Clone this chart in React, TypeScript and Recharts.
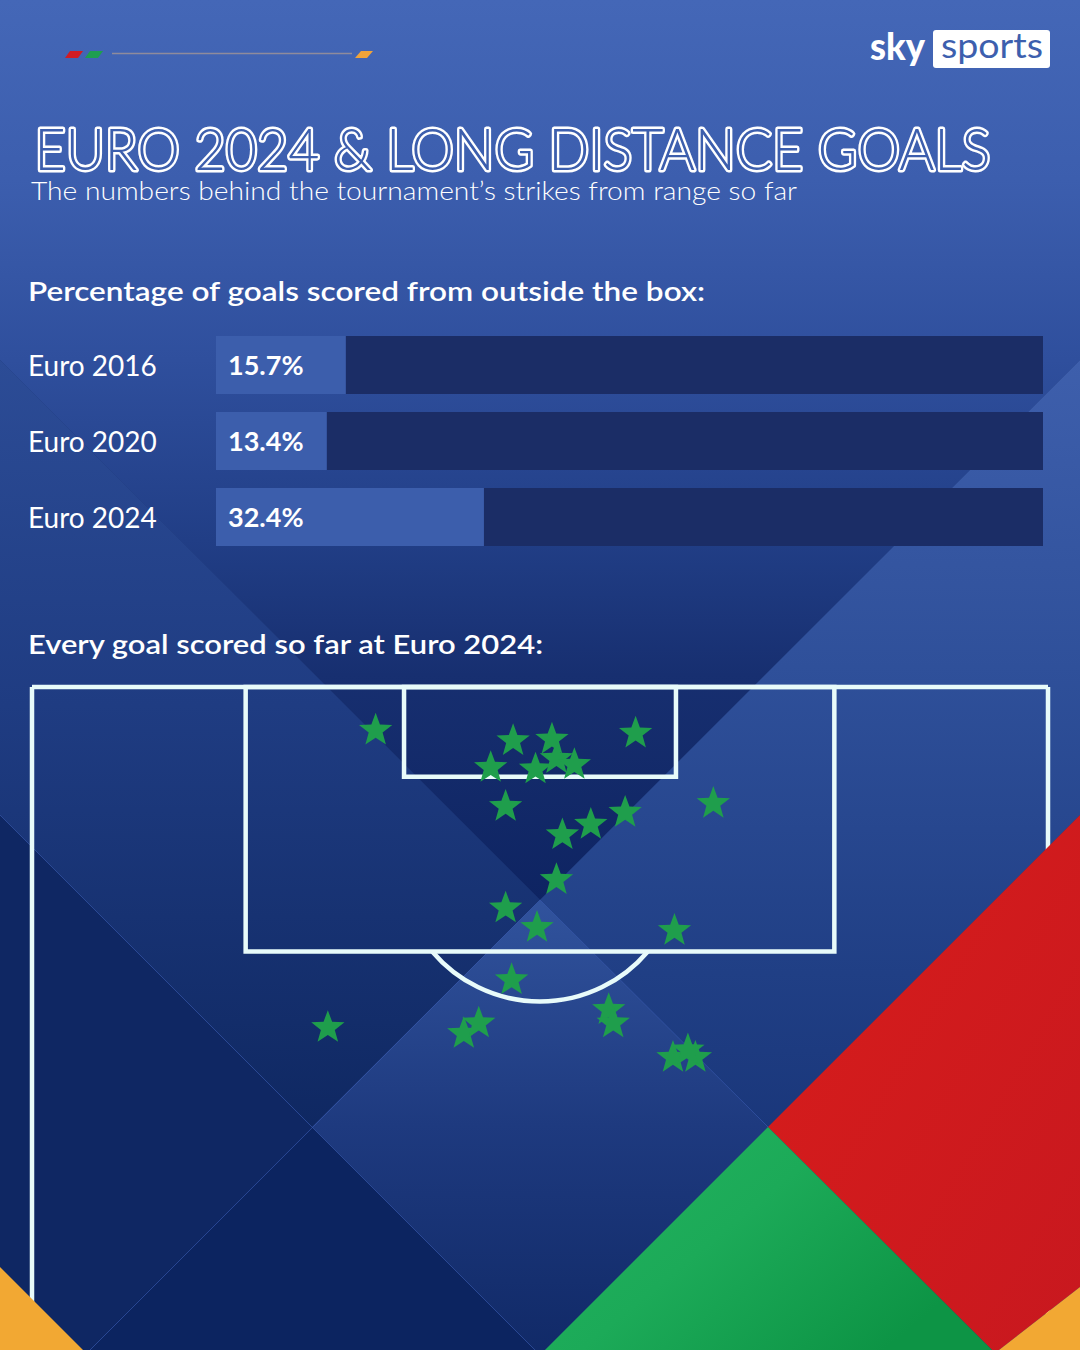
// Euro 2024 & long distance goals: barres horizontales + carte des buts sur un terrain.
import { BarChart, Bar, XAxis, YAxis, LabelList, ScatterChart, Scatter, ReferenceLine, ReferenceArea } from 'recharts';

const tournaments = ['Euro 2016', 'Euro 2020', 'Euro 2024'];
const outsideBoxPct = [15.7, 13.4, 32.4];

// goals, in metres: x across the pitch, y out from the goal line
const goalX = [23.0, 32.2, 34.8, 40.4, 30.7, 33.7, 35.1, 36.3, 31.7, 45.6, 39.7, 37.4, 35.5, 35.1, 31.7, 33.8, 43.0, 32.1, 19.8, 28.9, 29.9, 38.6, 38.9, 42.9, 44.4, 43.9];
const goalY = [2.9, 3.6, 3.5, 3.1, 5.4, 5.5, 4.8, 5.2, 8.0, 7.8, 8.4, 9.2, 9.9, 12.9, 14.8, 16.1, 16.3, 19.6, 22.8, 23.2, 22.5, 21.6, 22.5, 24.8, 24.8, 24.3];

// pitch markings, metres
const pitchWidth = 68;
const pitchDepth = 44.37;
const boxLeft = 14.3, boxRight = 53.7, boxDepth = 17.7;
const sixLeft = 24.9, sixRight = 43.1, sixDepth = 6.0;
const spotX = 34, spotY = 11.6, arcRadius = 9.45;

const barData = tournaments.map((name, i) => ({ name, pct: outsideBoxPct[i] }));
const goals = goalX.map((x, i) => ({ x, y: goalY[i] }));

const LINE = '#e8fbfa';
const FONT = 'Lato, "Open Sans", sans-serif';

const CatTick = ({ y, payload }: any) => (
  <text x={8} y={y} dy={11} fill="#fff" fontSize={28} fontFamily={FONT}>{payload.value}</text>
);

const Star = ({ cx, cy }: any) => {
  const R = 17.5, r = 7.3;
  const pts: string[] = [];
  for (let i = 0; i < 10; i++) {
    const a = -Math.PI / 2 + (i * Math.PI) / 5;
    const rad = i % 2 === 0 ? R : r;
    pts.push(`${cx + rad * Math.cos(a)},${cy + rad * Math.sin(a)}`);
  }
  return <polygon points={pts.join(' ')} fill="#1f9e4c" />;
};

// arc de la surface (the "D"), drawn in the circle's bounding box
const arcShape = (p: any) => {
  const r = Math.abs(p.width) / 2;
  const cx = p.x + p.width / 2;
  const cy = p.y + p.height / 2;
  const k = r / arcRadius;
  const dy = (boxDepth - spotY) * k;
  const dx = Math.sqrt(r * r - dy * dy);
  return <path d={`M ${cx - dx} ${cy + dy} A ${r} ${r} 0 0 0 ${cx + dx} ${cy + dy}`} fill="none" stroke={LINE} strokeWidth={4.5} />;
};

const Background = () => (
  <svg width={1080} height={1350} style={{ position: 'absolute', left: 0, top: 0 }}>
    <defs>
      <linearGradient id="gV" gradientUnits="userSpaceOnUse" x1="0" y1="0" x2="0" y2="900">
        <stop offset="0" stopColor="#4467b7" />
        <stop offset="0.2" stopColor="#3c5eae" />
        <stop offset="0.4" stopColor="#2f4f9d" />
        <stop offset="0.6" stopColor="#213e86" />
        <stop offset="0.75" stopColor="#172f70" />
        <stop offset="1" stopColor="#0e2462" />
      </linearGradient>
      <linearGradient id="gL" gradientUnits="userSpaceOnUse" x1="0" y1="360" x2="0" y2="1127">
        <stop offset="0" stopColor="#2c4c96" />
        <stop offset="0.45" stopColor="#1f3c82" />
        <stop offset="1" stopColor="#0f2862" />
      </linearGradient>
      <linearGradient id="gR" gradientUnits="userSpaceOnUse" x1="0" y1="360" x2="0" y2="1127">
        <stop offset="0" stopColor="#3e5fac" />
        <stop offset="0.4" stopColor="#2f509a" />
        <stop offset="0.8" stopColor="#203f85" />
        <stop offset="1" stopColor="#1a377b" />
      </linearGradient>
      <linearGradient id="gD" gradientUnits="userSpaceOnUse" x1="0" y1="900" x2="0" y2="1350">
        <stop offset="0" stopColor="#31539d" />
        <stop offset="0.5" stopColor="#1e3a7f" />
        <stop offset="1" stopColor="#112a68" />
      </linearGradient>
    </defs>
    <rect width={1080} height={1350} fill="#1a3578" />
    <polygon points="0,0 1080,0 1080,360 540,900 0,360" fill="url(#gV)" />
    <polygon points="0,360 540,900 312,1127 0,815" fill="url(#gL)" />
    <polygon points="1080,360 540,900 768,1127 1080,815" fill="url(#gR)" />
    <polygon points="540,900 312,1127 540,1355 768,1127" fill="url(#gD)" />
    <polygon points="0,815 312,1127 90,1350 0,1350" fill="#0f2763" />
    <polygon points="312,1127 90,1350 535,1350" fill="#0c2460" />
    <g stroke="#3a5cb0" strokeOpacity={0.6} strokeWidth={1}>
      <line x1={0} y1={815} x2={535} y2={1350} />
      <line x1={540} y1={900} x2={90} y2={1350} />
      <line x1={540} y1={900} x2={768} y2={1127} />
    </g>
    {/* header deco */}
    <polygon points="65,58 70,51 83,51 78,58" fill="#d01c24" />
    <polygon points="85,58 90,51 103,51 98,58" fill="#1e9e50" />
    <line x1={112} y1={53.5} x2={352} y2={53.5} stroke="#8f8b9c" strokeWidth={1.6} />
    <polygon points="355,58 361,51 373,51 367,58" fill="#f0a33a" />
    {/* logo */}
    <text x={870} y={60} fill="#fff" fontSize={38} fontWeight={900} fontFamily={FONT} textLength={55} lengthAdjust="spacingAndGlyphs">sky</text>
    <rect x={933} y={30} width={117} height={38} rx={3} fill="#fff" />
    <text x={941} y={58} fill="#3d5fae" fontSize={35} fontFamily={FONT} textLength={102} lengthAdjust="spacingAndGlyphs">sports</text>
    {/* titles: stroke painted first, glyph fill on top gives the inline look */}
    <text x={34.5} y={170} fontFamily={FONT} fontWeight={300} fontSize={58} textLength={956} lengthAdjust="spacingAndGlyphs" fill="#3c5ead" stroke="#fff" strokeWidth={5} strokeLinejoin="round" style={{ paintOrder: 'stroke' }}>EURO 2024 &amp; LONG DISTANCE GOALS</text>
    <text x={31} y={200} fill="#fff" fontFamily={FONT} fontWeight={300} fontSize={26} textLength={766} lengthAdjust="spacingAndGlyphs">The numbers behind the tournament’s strikes from range so far</text>
    <text x={28} y={301} fill="#fff" fontFamily={FONT} fontWeight={600} fontSize={27} textLength={677} lengthAdjust="spacingAndGlyphs">Percentage of goals scored from outside the box:</text>
    <text x={28} y={654} fill="#fff" fontFamily={FONT} fontWeight={600} fontSize={27} textLength={515} lengthAdjust="spacingAndGlyphs">Every goal scored so far at Euro 2024:</text>
  </svg>
);

// red / green / orange shapes sit above the pitch lines
const Overlay = () => (
  <svg width={1080} height={1350} style={{ position: 'absolute', left: 0, top: 0, pointerEvents: 'none' }}>
    <defs>
      <linearGradient id="gRed" x1="0" y1="0" x2="1" y2="1">
        <stop offset="0" stopColor="#d81d1b" />
        <stop offset="1" stopColor="#c8181f" />
      </linearGradient>
      <linearGradient id="gGreen" x1="0" y1="0" x2="1" y2="0.6">
        <stop offset="0" stopColor="#23b460" />
        <stop offset="0.5" stopColor="#1caa58" />
        <stop offset="1" stopColor="#0d9445" />
      </linearGradient>
    </defs>
    <polygon points="768,1127 1080,815 1080,1287 999,1350 992,1350" fill="url(#gRed)" />
    <polygon points="768,1127 992,1350 545,1350" fill="url(#gGreen)" />
    <polygon points="0,1267 83,1350 0,1350" fill="#f2a833" />
    <polygon points="999,1350 1080,1287 1080,1350" fill="#f2a833" />
  </svg>
);

export default function App() {
  return (
    <div style={{ position: 'absolute', left: 0, top: 0, width: 1080, height: 1350, overflow: 'hidden', fontFamily: FONT }}>
      <Background />

      <div style={{ position: 'absolute', left: 20, top: 317 }}>
        <BarChart layout="vertical" width={1033} height={248} data={barData} margin={{ top: 10, right: 10, left: 0, bottom: 10 }} barSize={58}>
          <XAxis type="number" domain={[0, 100]} hide />
          <YAxis type="category" dataKey="name" width={196} axisLine={false} tickLine={false} tick={<CatTick />} />
          <Bar dataKey="pct" fill="#3c5eac" background={{ fill: '#1b2d66' }} isAnimationActive={false}>
            <LabelList dataKey="pct" position="insideLeft" offset={12} formatter={(v: any) => `${v}%`} fill="#fff" fontSize={27} fontWeight={700} fontFamily={FONT} />
          </Bar>
        </BarChart>
      </div>

      <div style={{ position: 'absolute', left: 22, top: 677 }}>
        <ScatterChart width={1036} height={673} margin={{ top: 10, right: 10, left: 10, bottom: 0 }}>
          <XAxis type="number" dataKey="x" domain={[0, pitchWidth]} hide allowDataOverflow />
          <YAxis type="number" dataKey="y" domain={[0, pitchDepth]} reversed hide allowDataOverflow />
          <Scatter data={goals} shape={<Star />} isAnimationActive={false} />
          <ReferenceLine x={0} stroke={LINE} strokeWidth={4.5} />
          <ReferenceLine x={pitchWidth} stroke={LINE} strokeWidth={4.5} />
          <ReferenceLine y={0} stroke={LINE} strokeWidth={4.5} />
          <ReferenceArea x1={boxLeft} x2={boxRight} y1={0} y2={boxDepth} fill="none" fillOpacity={0} stroke={LINE} strokeWidth={4.5} />
          <ReferenceArea x1={sixLeft} x2={sixRight} y1={0} y2={sixDepth} fill="none" fillOpacity={0} stroke={LINE} strokeWidth={4.5} />
          <ReferenceArea x1={spotX - arcRadius} x2={spotX + arcRadius} y1={spotY - arcRadius} y2={spotY + arcRadius} shape={arcShape} />
        </ScatterChart>
      </div>

      <Overlay />
    </div>
  );
}
